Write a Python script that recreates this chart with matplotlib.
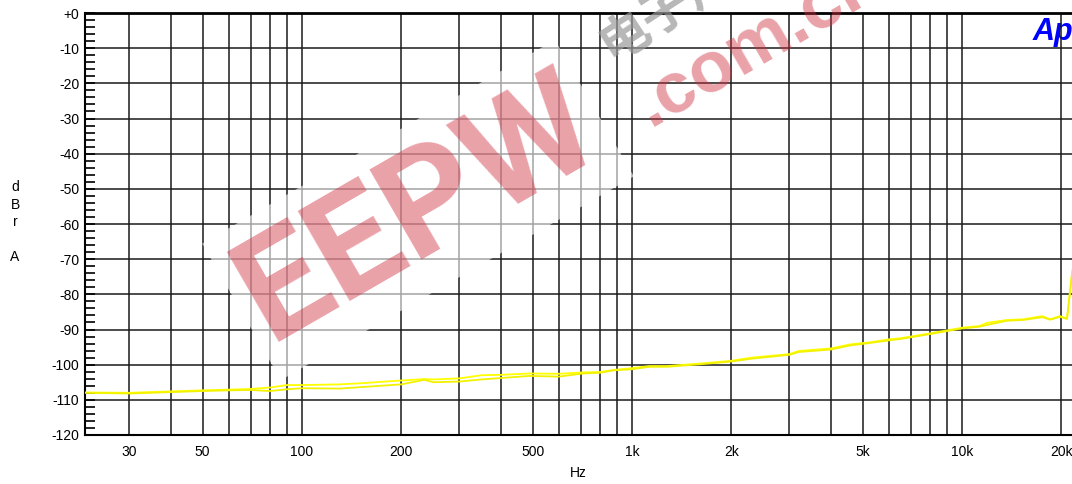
import matplotlib
matplotlib.use('Agg')
import matplotlib.pyplot as plt
from matplotlib.ticker import FixedLocator, NullFormatter

# --- data ---
freq_hz = [22, 30, 40, 50, 60, 70, 80, 90, 100, 130, 150, 200, 235, 250, 300,
           350, 400, 490, 600, 710, 800, 880, 1000, 1130, 1280, 1600, 2000,
           2300, 3000, 3200, 4000, 4600, 5200, 6000, 6500, 8000, 10000, 11300,
           11900, 13700, 15300, 17500, 18500, 19800, 20800, 21600]
ch_a = [-107.9, -108.0, -107.6, -107.3, -107.1, -106.9, -106.5, -105.8, -105.8,
        -105.6, -105.3, -104.5, -104.1, -104.2, -103.9, -103.0, -102.9, -102.5,
        -102.6, -102.2, -102.1, -101.5, -101.0, -100.4, -100.4, -99.7, -98.9,
        -98.0, -97.0, -96.1, -95.4, -94.2, -93.7, -92.8, -92.5, -91.1, -89.5,
        -89.0, -88.1, -87.3, -87.1, -86.2, -87.1, -86.2, -86.9, -73.0]
ch_b = [-108.0, -108.2, -107.8, -107.5, -107.3, -107.2, -107.5, -107.0, -106.7,
        -106.8, -106.4, -105.6, -104.3, -105.0, -104.8, -104.2, -103.8, -103.2,
        -103.4, -102.5, -102.3, -101.6, -101.3, -100.6, -100.6, -99.9, -99.1,
        -98.3, -97.2, -96.4, -95.7, -94.5, -93.9, -93.1, -92.7, -91.3, -89.7,
        -89.2, -88.7, -87.5, -87.3, -86.5, -87.2, -86.4, -87.0, -73.5]

x_ticks = [30, 50, 100, 200, 500, 1000, 2000, 5000, 10000, 20000]
x_ticklabels = ['30', '50', '100', '200', '500', '1k', '2k', '5k', '10k', '20k']
x_grid = [30, 40, 50, 60, 70, 80, 90, 100, 200, 300, 400, 500, 600, 700, 800,
          900, 1000, 2000, 3000, 4000, 5000, 6000, 7000, 8000, 9000, 10000, 20000]
y_ticks = list(range(-120, 1, 10))
y_ticklabels = ['+0' if v == 0 else str(v) for v in y_ticks]

plt.rcParams['font.family'] = ['Liberation Sans', 'DejaVu Sans']

W, H = 1072, 484
fig = plt.figure(figsize=(W / 100, H / 100), dpi=100)
fig.patch.set_facecolor('white')
ax = fig.add_axes([85 / W, 49 / H, 1 - 85 / W, 422 / H])

ax.set_xscale('log')
ax.set_xlim(22, 21540)
ax.set_ylim(-120, 0)

# grid lines
for f in x_grid:
    ax.axvline(f, color='#1a1a1a', lw=1.1, zorder=1)
for v in y_ticks:
    ax.axhline(v, color='#1a1a1a', lw=1.1, zorder=1)

# traces
ax.plot(freq_hz, ch_a, color='#ffff00', lw=1.3, zorder=3)
ax.plot(freq_hz, ch_b, color='#f2f200', lw=1.3, zorder=3)

# axes styling
ax.xaxis.set_major_locator(FixedLocator(x_ticks))
ax.xaxis.set_minor_locator(FixedLocator([]))
ax.xaxis.set_minor_formatter(NullFormatter())
ax.set_xticklabels(x_ticklabels)
ax.tick_params(axis='x', length=0, pad=7, labelsize=10)

ax.yaxis.set_major_locator(FixedLocator(y_ticks))
ax.set_yticklabels(y_ticklabels)
ax.yaxis.set_minor_locator(FixedLocator([v for v in range(-120, 1, 2) if v % 10]))
ax.tick_params(axis='y', which='major', direction='in', length=7, width=1.2,
               pad=4, labelsize=10)
ax.tick_params(axis='y', which='minor', direction='in', length=7, width=1.2)

ax.spines['right'].set_visible(False)
ax.spines['top'].set_linewidth(2)
ax.spines['left'].set_linewidth(1.5)
ax.spines['bottom'].set_linewidth(1.5)
for s in ['top', 'left', 'bottom']:
    ax.spines[s].set_color('black')

ax.set_xlabel('Hz', fontsize=10, labelpad=5)
fig.text(15 / W, 1 - 222 / H, 'd\nB\nr\n\nA', ha='center', va='center',
         fontsize=10, linespacing=1.3)

# Ap logo
ax.text(1033 / W, 1 - 40 / H, 'Ap', transform=fig.transFigure, color='#0000ff',
        fontsize=22, fontweight='bold', fontstyle='italic', ha='left',
        va='baseline', zorder=0.5)

# watermark
fig.text(418 / W, 1 - 210 / H, 'EEPW', rotation=30, rotation_mode='anchor',
         ha='center', va='center', fontsize=106, fontweight='bold',
         family=['Roboto', 'Liberation Sans'],
         color='#d03040', alpha=0.45,
         bbox=dict(facecolor='white', edgecolor='none', alpha=0.6, pad=6))
fig.text(650 / W, 1 - 128 / H, '.com.cn', rotation=30, rotation_mode='anchor',
         ha='left', va='baseline', fontsize=52, fontweight='bold',
         color='#d03040', alpha=0.45)
fig.text(604 / W, 1 - 50 / H, '电子产品世界', rotation=33, rotation_mode='anchor',
         ha='left', va='center', fontsize=36, fontweight='bold',
         family=['Noto Sans CJK SC', 'DejaVu Sans'], color='#999999', alpha=0.7)

fig.savefig('out.png', dpi=100)
